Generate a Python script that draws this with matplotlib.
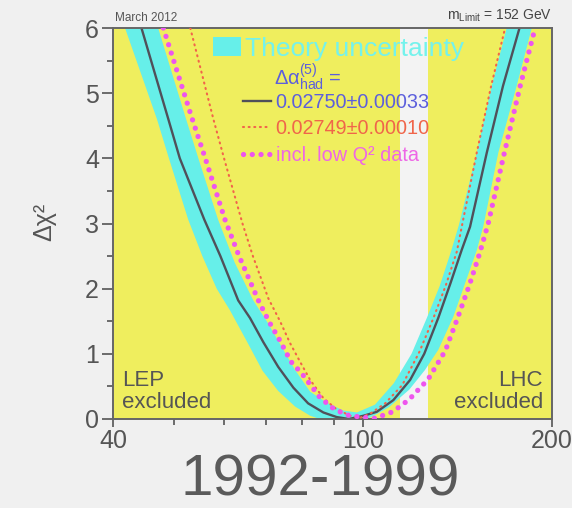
import matplotlib
matplotlib.use("Agg")
import matplotlib.pyplot as plt
import matplotlib.ticker as mticker
from matplotlib.patches import Patch
from matplotlib.lines import Line2D

plt.rcParams['font.family'] = ['Liberation Sans', 'DejaVu Sans']
plt.rcParams['mathtext.fontset'] = 'custom'
plt.rcParams['mathtext.rm'] = 'Liberation Sans'
plt.rcParams['mathtext.it'] = 'Liberation Sans:italic'
plt.rcParams['mathtext.bf'] = 'Liberation Sans:bold'

# excluded regions (GeV)
lep_limit = 114.4
lhc_limit = 127.0
m_min, m_max = 40, 200

# central fit, Delta alpha_had = 0.02750 +- 0.00033
fit_m = [44.4, 49.0, 51.1, 55.9, 59.3, 63.3, 66.1, 69.4, 73.3, 77.5, 81.8, 86.5, 90.8,
         95.0, 100.2, 105.2, 111.8, 118.9, 125.2, 131.8, 137.8, 143.7, 148.1, 157.5,
         167.1, 177.9]
fit_chi2 = [6.0, 4.6, 4.0, 3.06, 2.5, 1.82, 1.55, 1.18, 0.8, 0.48, 0.24, 0.10, 0.03,
            0.0, 0.05, 0.11, 0.29, 0.6, 1.0, 1.55, 2.08, 2.6, 2.95, 4.09, 5.11, 6.03]

# theory uncertainty band: lower and upper envelopes
band_lo_m = [41.8, 47.0, 49.1, 52.7, 55.5, 58.5, 61.4, 65.6, 69.2, 73.3, 78.0, 82.4, 85.4,
             101.4, 104.0, 110.0, 118.5, 125.5, 131.8, 139.3, 145.4, 151.8, 155.5, 164.3,
             175.7, 185.7]
band_lo_chi2 = [6.0, 4.6, 4.0, 3.06, 2.5, 2.0, 1.67, 1.16, 0.74, 0.43, 0.19, 0.05, 0.0,
                0.0, 0.05, 0.18, 0.45, 0.75, 1.06, 1.57, 2.08, 2.59, 2.96, 4.09, 5.11, 6.0]
band_hi_m = [47.2, 52.3, 54.7, 58.8, 62.5, 66.9, 70.3, 73.8, 78.0, 82.4, 87.6, 93.1, 97.8,
             104.5, 112.0, 119.5, 126.4, 132.6, 138.1, 142.2, 151.8, 160.3, 169.4]
band_hi_chi2 = [6.0, 4.6, 4.0, 3.06, 2.4, 1.82, 1.5, 1.15, 0.75, 0.42, 0.25, 0.13, 0.10,
                0.22, 0.55, 1.0, 1.55, 2.05, 2.57, 2.98, 4.09, 5.11, 6.0]

# Delta alpha_had = 0.02749 +- 0.00010
alt_m = [53.1, 57.8, 60.1, 64.3, 66.8, 70.7, 73.8, 76.5, 79.4, 82.4, 86.5, 90.5, 95.4,
         99.0, 102.6, 108.5, 115.5, 123.0, 129.5, 135.5, 141.1, 144.0, 151.8, 160.0, 168.4]
alt_chi2 = [6.0, 4.6, 4.0, 3.0, 2.5, 1.85, 1.5, 1.17, 0.88, 0.6, 0.32, 0.16, 0.05,
            0.02, 0.08, 0.24, 0.52, 1.03, 1.55, 2.05, 2.57, 3.0, 4.09, 5.11, 6.0]

# incl. low Q^2 data
lowq_m = [48.1, 53.5, 56.1, 60.3, 63.5, 68.3, 71.1, 73.8, 76.8, 79.9, 82.4, 85.4, 90.0,
          94.5, 99.0, 104.5, 111.5, 118.5, 127.0, 135.3, 141.5, 147.8, 153.5, 158.3,
          168.0, 178.0, 188.0]
lowq_chi2 = [6.0, 4.6, 4.0, 3.06, 2.5, 1.8, 1.47, 1.2, 0.88, 0.7, 0.53, 0.33, 0.15,
             0.06, 0.03, 0.01, 0.11, 0.3, 0.61, 1.05, 1.55, 2.06, 2.55, 3.0, 4.09,
             5.11, 6.0]

x_ticks = [40, 100, 200]
x_minor = [50, 60, 70, 80, 90]

bg = '#f0f0f0'
yellow = '#efee5e'
cyan = '#66efe9'
gray = '#555555'
c_fit = '#50505a'
c_alt = '#f2644a'
c_lowq = '#ee55ee'
t_blue = '#5c5fdc'

fig = plt.figure(figsize=(5.72, 5.08), dpi=100, facecolor=bg)
ax = fig.add_axes([113/572, 1 - 419/508, 439/572, 391/508])
ax.set_facecolor('#f3f3f3')

ax.axvspan(m_min, lep_limit, color=yellow, lw=0, zorder=0)
ax.axvspan(lhc_limit, m_max, color=yellow, lw=0, zorder=0)

ax.fill(band_lo_m + band_hi_m[::-1], band_lo_chi2 + band_hi_chi2[::-1],
        color=cyan, lw=0, zorder=1)
ax.plot(fit_m, fit_chi2, color=c_fit, lw=1.7, zorder=2)
red_ls = (0, (0.5, 2.2))
mag_ls = (0, (0.01, 1.65))
ax.plot(alt_m, alt_chi2, color=c_alt, lw=1.5, ls=red_ls, dash_capstyle='round', zorder=3)
ax.plot(lowq_m, lowq_chi2, color=c_lowq, lw=3.8, ls=mag_ls, dash_capstyle='round', zorder=4)

ax.set_xscale('log')
ax.set_xlim(m_min, m_max)
ax.set_ylim(0, 6)
ax.xaxis.set_major_locator(mticker.FixedLocator(x_ticks))
ax.xaxis.set_major_formatter(mticker.FixedFormatter([str(t) for t in x_ticks]))
ax.xaxis.set_minor_locator(mticker.FixedLocator(x_minor))
ax.xaxis.set_minor_formatter(mticker.NullFormatter())
ax.yaxis.set_major_locator(mticker.MultipleLocator(1))
ax.yaxis.set_minor_locator(mticker.MultipleLocator(0.5))

ax.tick_params(axis='both', which='both', direction='out', color=gray, labelcolor=gray, width=1.2)
ax.tick_params(axis='y', which='major', length=8, labelsize=18, pad=2)
ax.tick_params(axis='y', which='minor', length=4)
ax.tick_params(axis='x', which='major', length=6, labelsize=18, pad=1)
ax.tick_params(axis='x', which='minor', length=4)
for s in ax.spines.values():
    s.set_color('#666666')
    s.set_linewidth(1.4)

# legend
leg1 = ax.legend([Patch(facecolor=cyan, edgecolor='none')], ['Theory uncertainty'],
                 loc='upper left', bbox_to_anchor=(0.228, 0.977), frameon=False,
                 fontsize=19, handlelength=1.05, handleheight=0.72, handletextpad=0.15,
                 borderpad=0, borderaxespad=0, labelcolor='#74f2ec')
ax.add_artist(leg1)

ax.text(0.367, 0.855, r'$\mathrm{\Delta\alpha}^{(5)}_{\mathrm{had}}$ =', transform=ax.transAxes,
        ha='left', va='baseline', fontsize=14.5, color=t_blue)

handles = [Line2D([], [], color=c_fit, lw=1.7),
           Line2D([], [], color=c_alt, lw=1.5, ls=red_ls, dash_capstyle='round'),
           Line2D([], [], color=c_lowq, lw=3.8, ls=mag_ls, dash_capstyle='round')]
labels = ['0.02750±0.00033', '0.02749±0.00010', 'incl. low Q² data']
ax.legend(handles, labels, loc='upper left', bbox_to_anchor=(0.296, 0.835),
          frameon=False, fontsize=14.3, handlelength=1.4, handletextpad=0.25,
          labelspacing=0.38, borderpad=0, borderaxespad=0,
          labelcolor=[t_blue, '#f0654a', '#ee66e6'])

ax.text(0.02, 0.015, 'LEP\nexcluded', transform=ax.transAxes, ha='left', va='bottom',
        fontsize=16, color=gray, linespacing=1.05)
ax.text(0.979, 0.015, 'LHC\nexcluded', transform=ax.transAxes, ha='right', va='bottom',
        fontsize=16, color=gray, linespacing=1.05, multialignment='right')

fig.text(44/572, 1 - 222/508, 'Δχ²', rotation=90, ha='center', va='center',
         fontsize=18, color=gray)
fig.text(115/572, 1 - 18/508, 'March 2012', ha='left', va='center', fontsize=8.5, color=gray)
fig.text(552/572, 1 - 16/508, r'm$_{\rm Limit}$ = 152 GeV', ha='right', va='center',
         fontsize=10, color='#444444')
fig.text(320/572, 1 - 507/508, '1992-1999', ha='center', va='bottom', fontsize=42,
         color='#5a5a5a')

fig.savefig('out.png', dpi=100, facecolor=bg)
